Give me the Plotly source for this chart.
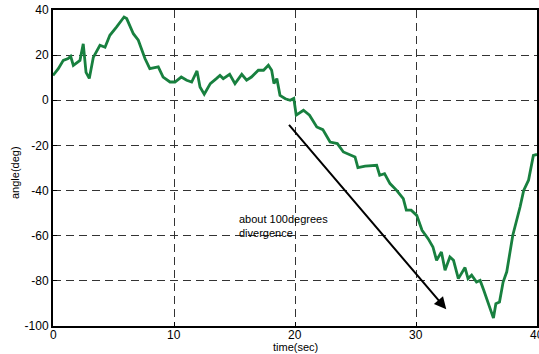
import plotly.graph_objects as go

time_sec = [0, 0.44, 0.85, 1.25, 1.46, 1.68, 2.23, 2.5, 2.73, 3.0, 3.33, 3.88, 4.3, 4.7,
            5.26, 5.87, 6.09, 6.64, 7.05, 7.6, 8.0, 8.7, 9.1, 9.67, 10.08, 10.6, 11.05,
            11.46, 11.9, 12.15, 12.5, 13.0, 13.5, 13.8, 14.07, 14.6, 15.04, 15.6, 16.0,
            16.4, 16.97, 17.4, 17.8, 18.07, 18.26, 18.5, 18.76, 19.2, 19.6, 19.9, 20.1,
            20.7, 21.2, 21.8, 22.3, 22.9, 23.5, 24.0, 24.96, 25.2, 25.8, 26.75, 27.0,
            27.4, 27.85, 28.4, 28.95, 29.2, 29.6, 30.06, 30.5, 31.0, 31.4, 31.7, 32.1,
            32.4, 32.8, 33.1, 33.5, 34.05, 34.3, 34.6, 35.0, 35.3, 35.6, 35.97, 36.4,
            36.6, 36.9, 37.2, 37.5, 37.9, 38.0, 38.6, 38.9, 39.3, 39.7, 40]
angle_deg = [11, 14, 17.7, 18.5, 19.5, 15.5, 17.7, 25, 12.4, 9.7, 19, 24.4, 23.5, 28.8,
             32.5, 36.9, 36.2, 29.5, 26.6, 18.5, 14, 14.8, 10.3, 8.1, 8.1, 10.3, 8.9,
             8.1, 13, 5.9, 2.7, 7.4, 9.6, 11, 9.6, 11.5, 7.4, 11.5, 8.9,
             10.3, 13.3, 13.3, 15.5, 13.3, 7.4, 9.6, 2.2, 0.7, 0, 0.8, -6.6,
             -4.4, -6.6, -11.8, -13, -18.5, -19.2, -22.9, -25.1, -29.8, -29.2, -28.8, -33.2,
             -32.5, -36.9, -39.9, -43.6, -48.7, -48.7, -51, -57.6, -61.3, -65, -70.9, -67.2,
             -75.3, -69.4, -70.9, -79, -74.1, -79, -77.5, -80.5, -79.8, -84.2, -90.1, -96.5,
             -90.1, -89.4, -80.5, -76, -63, -59.8, -47.3, -39.9, -35.4, -24.4, -24]

x_ticks = [0, 10, 20, 30, 40]
y_ticks = [40, 20, 0, -20, -40, -60, -80, -100]

arrow_start = (19.4, -10.2)
arrow_end = (32.5, -92.6)
note_text = "about 100degrees<br>divergence"
note_pos = (15.2, -55.5)
x_title = "time(sec)"
y_title = "angle(deg)"

FONT = "Liberation Sans, Arial, sans-serif"
BLACK = "black"

fig = go.Figure()
fig.add_trace(go.Scatter(x=time_sec, y=angle_deg, mode="lines",
                         line=dict(color="#18803f", width=2.8), showlegend=False))

fig.add_annotation(x=arrow_end[0], y=arrow_end[1], ax=arrow_start[0], ay=arrow_start[1],
                   xref="x", yref="y", axref="x", ayref="y", showarrow=True,
                   arrowhead=2, arrowsize=1.2, arrowwidth=2, arrowcolor=BLACK, text="")
fig.add_annotation(x=note_pos[0], y=note_pos[1], xref="x", yref="y", text=note_text,
                   showarrow=False, xanchor="left", yanchor="middle", align="left",
                   font=dict(family=FONT, size=11, color=BLACK))

# x tick labels drawn as annotations so the right-most "40" is kept (clipped by the page edge)
for v in x_ticks:
    fig.add_annotation(x=v, y=0, xref="x", yref="paper", text=str(v), showarrow=False,
                       xanchor="center", yanchor="middle", yshift=-9,
                       font=dict(family=FONT, size=12, color=BLACK))

fig.add_annotation(x=0.5, y=0, xref="paper", yref="paper", text=x_title, showarrow=False,
                   xanchor="center", yanchor="middle", yshift=-21,
                   font=dict(family=FONT, size=11, color=BLACK))
fig.add_annotation(x=0, y=0.5, xref="paper", yref="paper", text=y_title, showarrow=False,
                   xanchor="center", yanchor="middle", xshift=-38, yshift=-5, textangle=-90,
                   font=dict(family=FONT, size=11, color=BLACK))

axis_common = dict(showline=True, linecolor=BLACK, linewidth=2, mirror=True,
                   showgrid=True, gridcolor="#333333", gridwidth=1, griddash="8px,5px",
                   zeroline=False, automargin=False)

fig.update_xaxes(range=[0, 40], tickvals=x_ticks, showticklabels=False,
                 ticks="inside", ticklen=4, tickcolor=BLACK, **axis_common)
fig.update_yaxes(range=[-100, 40], tickvals=y_ticks, ticktext=[str(v) for v in y_ticks],
                 ticks="inside", ticklen=4, tickcolor=BLACK,
                 tickfont=dict(family=FONT, size=12, color=BLACK), **axis_common)

fig.update_layout(width=539, height=354, margin=dict(l=53, r=2, t=10, b=28),
                  plot_bgcolor="white", paper_bgcolor="white")

fig.write_html("out.html")
